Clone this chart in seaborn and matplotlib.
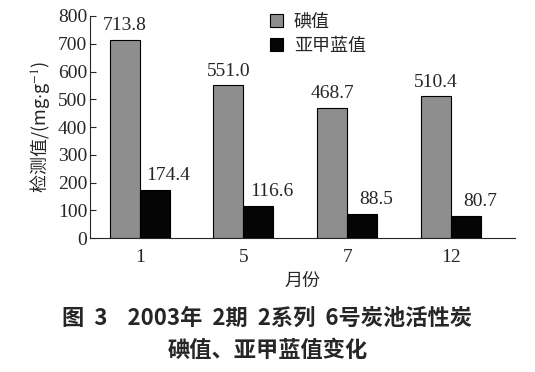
import pandas as pd
import matplotlib
matplotlib.use('Agg')
import matplotlib.pyplot as plt
import seaborn as sns

# data
months = ['1', '5', '7', '12']
iodine = [713.8, 551.0, 468.7, 510.4]
methylene = [174.4, 116.6, 88.5, 80.7]
series = ['碘值', '亚甲蓝值']

df = pd.DataFrame({
    'month': months * 2,
    'value': iodine + methylene,
    'series': [series[0]] * len(months) + [series[1]] * len(months),
})

sns.set_style('ticks')
plt.rcParams['font.family'] = ['Liberation Serif', 'Noto Sans CJK SC', 'DejaVu Sans']
plt.rcParams['mathtext.fontset'] = 'stix'

fig = plt.figure(figsize=(5.35, 3.72), dpi=100)
ax = fig.add_axes([0.168, 0.36, 0.795, 0.597])

sns.barplot(data=df, x='month', y='value', hue='series', order=months,
            palette=['#8e8e8e', '#050505'], width=0.58, edgecolor='black',
            linewidth=0.8, ax=ax, saturation=1)

# value labels: grey ones centred, black ones nudged to the right
for cont, dx in zip(ax.containers, [0, 10]):
    anns = ax.bar_label(cont, fmt='%.1f', padding=4, fontsize=14)
    for a in anns:
        a.xyann = (dx, 4)

ax.set_ylim(0, 800)
ax.set_yticks(range(0, 801, 100))
ax.set_xlim(-0.48, 3.62)
ax.tick_params(axis='y', direction='in', length=4, labelsize=14, pad=2)
ax.tick_params(axis='x', length=0, labelsize=14, pad=8)
ax.spines['top'].set_visible(False)
ax.spines['right'].set_visible(False)
ax.set_xlabel('月份', fontsize=13, family=['Noto Sans CJK SC'], labelpad=4)
ax.set_ylabel('检测值/(mg$\\cdot$g$^{-1}$)', fontsize=13,
              family=['Noto Sans CJK SC', 'DejaVu Sans'], labelpad=4)

handles, labels = ax.get_legend_handles_labels()
ax.get_legend().remove()
fig.legend(handles, labels, loc='upper left', bbox_to_anchor=(0.475, 1.01),
           frameon=False, prop={'family': 'Noto Sans CJK SC', 'size': 13},
           handlelength=0.7, handleheight=0.7, handletextpad=0.6, labelspacing=0.35)

cap = dict(ha='center', va='center', fontsize=16, fontweight='bold',
           family=['Noto Sans CJK SC'])
fig.text(0.5, 0.145, '图  3    2003年  2期  2系列  6号炭池活性炭', **cap)
fig.text(0.5, 0.058, '碘值、亚甲蓝值变化', **cap)

fig.savefig('out.png', dpi=100)
